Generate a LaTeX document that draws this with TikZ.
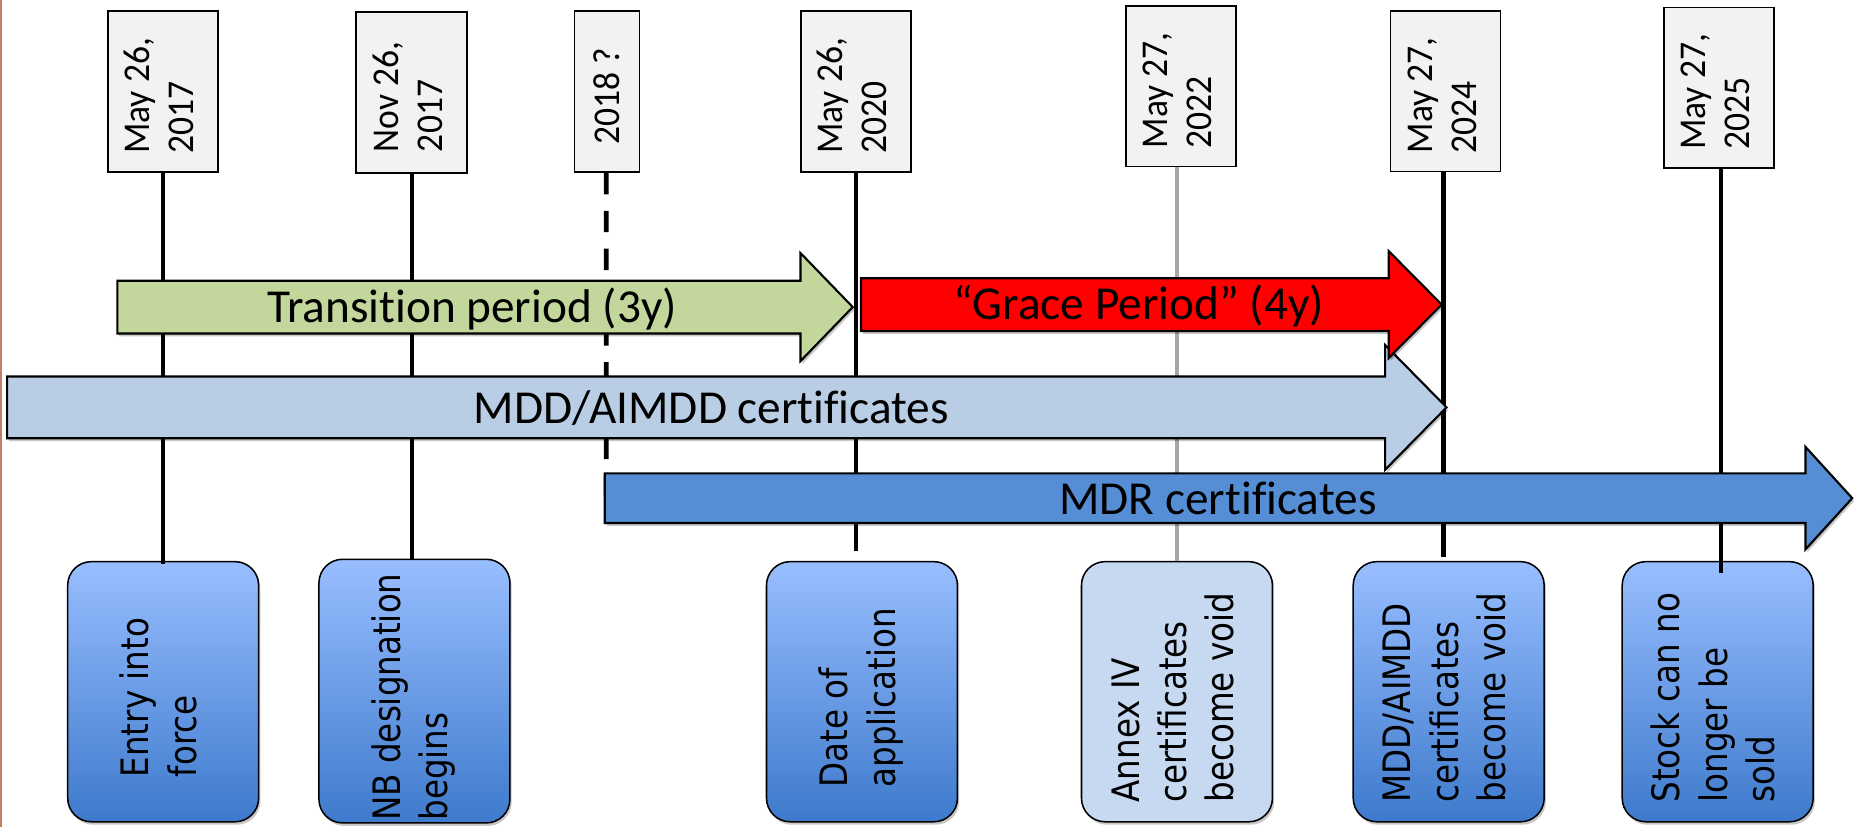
\documentclass[tikz,border=0pt]{standalone}
\usepackage{fontspec}
\setmainfont{Carlito}[Ligatures=CommonOff]
\newfontfamily\datefont[FakeStretch=0.94,Ligatures=CommonOff]{Carlito}
\newfontfamily\boxfont[FakeStretch=0.86]{DejaVu Sans}
\usetikzlibrary{shadows}
\definecolor{dategray}{HTML}{F2F2F2}
\definecolor{gtop}{RGB}{152,190,255}
\definecolor{gbot}{RGB}{62,122,204}
\definecolor{annexfill}{HTML}{C6D9F1}
\definecolor{greenarrow}{HTML}{C3D69B}
\definecolor{mddblue}{HTML}{B9CDE5}
\definecolor{mdrblue}{HTML}{558ED5}
\definecolor{edgebrown}{RGB}{196,128,100}
\definecolor{linegray}{HTML}{A6A6A6}
\begin{document}
\begin{tikzpicture}[x=1pt,y=-1pt,
  softshadow/.style={drop shadow={shadow xshift=1.5pt, shadow yshift=-2.5pt, opacity=0.22, fill=black}},
  datebox/.style={draw=black, line width=1.5pt, fill=dategray, inner sep=0pt,
    minimum width=93pt, minimum height=136pt, font=\datefont\fontsize{32}{37}\selectfont},
  eventbox/.style={draw=black, line width=1.3pt, rounded corners=20pt, top color=gtop, bottom color=gbot,
    inner sep=0pt, minimum width=161.5pt, minimum height=220pt,
    font=\boxfont\fontsize{32}{40}\selectfont, softshadow},
  annexbox/.style={eventbox, fill=annexfill, top color=annexfill, bottom color=annexfill},
  timeline/.style={draw=black, line width=3.5pt},
  periodarrow/.style={draw=black, line width=1.8pt, softshadow},
  arrowtext/.style={font=\fontsize{40}{48}\selectfont, anchor=base, inner sep=0pt}
]
\useasboundingbox (0,0) rectangle (1568,699);

% event boxes
\node[eventbox] (b1) at (138,585) {\rotatebox{90}{\hspace{-10pt}\begin{tabular}{@{}l@{}}Entry into\\force\end{tabular}}};
\node[eventbox, minimum height=223pt] (b2) at (350.5,584.5) {\rotatebox{90}{\hspace{-10pt}\begin{tabular}{@{}l@{}}NB designation\\begins\end{tabular}}};
\node[eventbox] (b3) at (729,585) {\rotatebox{90}{\hspace{-10pt}\begin{tabular}{@{}l@{}}Date of\\application\end{tabular}}};
\node[annexbox] (b4) at (995.4,585) {\rotatebox{90}{\hspace{-10pt}\begin{tabular}{@{}l@{}}Annex IV\\certificates\\become void\end{tabular}}};
\node[eventbox] (b5) at (1225.2,585) {\rotatebox{90}{\hspace{-10pt}\begin{tabular}{@{}l@{}}MDD/AIMDD\\certificates\\become void\end{tabular}}};
\node[eventbox] (b6) at (1452.7,585) {\rotatebox{90}{\hspace{-10pt}\begin{tabular}{@{}l@{}}Stock can no\\longer be\\sold\end{tabular}}};

% date boxes
\node[datebox] (d1) at (137.8,77.6) {\rotatebox{90}{\hspace{-7pt}\begin{tabular}{@{}l@{}}May 26,\\2017\end{tabular}}};
\node[datebox, minimum width=93.7pt] (d2) at (348.2,78.3) {\rotatebox{90}{\hspace{-7pt}\begin{tabular}{@{}l@{}}Nov 26,\\2017\end{tabular}}};
\node[datebox, minimum width=55pt] (d3) at (513.4,77.6) {\rotatebox{90}{\hspace{-7pt}2018 ?}};
\node[datebox] (d4) at (723.7,77.6) {\rotatebox{90}{\hspace{-7pt}\begin{tabular}{@{}l@{}}May 26,\\2020\end{tabular}}};
\node[datebox] (d5) at (998.9,72.8) {\rotatebox{90}{\hspace{-7pt}\begin{tabular}{@{}l@{}}May 27,\\2022\end{tabular}}};
\node[datebox] (d6) at (1222.5,77) {\rotatebox{90}{\hspace{-7pt}\begin{tabular}{@{}l@{}}May 27,\\2024\end{tabular}}};
\node[datebox] (d7) at (1453.9,74.3) {\rotatebox{90}{\hspace{-7pt}\begin{tabular}{@{}l@{}}May 27,\\2025\end{tabular}}};

% timeline connectors
\coordinate (mdrstart) at (512.8,420);
\draw[timeline] (d1.south) -- ([yshift=-3pt]d1.south |- b1.north);
\draw[timeline] (d2.south) -- (d2.south |- b2.north);
\draw[timeline, line width=4pt, dash pattern=on 18pt off 14pt] ([xshift=-0.6pt]d3.south) -- (mdrstart);
\draw[timeline] (d4.south) -- ([yshift=8pt]d4.south |- b3.north);
\draw[timeline, draw=linegray] (b4.north |- d5.south) -- (b4.north);
\draw[timeline] ([xshift=-1.7pt]d6.south) -- ([xshift=-1.7pt,yshift=3pt]d6.south |- b5.north);
\draw[timeline] ([xshift=1.9pt]d7.south) -- ([xshift=1.9pt,yshift=-10pt]d7.south |- b6.north);

% period arrows
\path[periodarrow, fill=mddblue] (6,318.4) -- (1171.4,318.4) -- (1171.4,291.7) -- (1223.4,344.5)
  -- (1171.4,397.3) -- (1171.4,370.6) -- (6,370.6) -- cycle;
\path[periodarrow, fill=mdrblue] (511.5,400.3) -- (1527,400.3) -- (1527,378) -- (1566.5,421.3)
  -- (1527,464.6) -- (1527,442.3) -- (511.5,442.3) -- cycle;
\path[periodarrow, fill=greenarrow] (99.3,237.4) -- (677,237.4) -- (677,214) -- (721.2,259.7)
  -- (677,305.4) -- (677,282) -- (99.3,282) -- cycle;
\path[periodarrow, fill=red] (728.2,235.3) -- (1174.5,235.3) -- (1174.5,212.4) -- (1219.3,257.6)
  -- (1174.5,302.8) -- (1174.5,279.9) -- (728.2,279.9) -- cycle;

\node[arrowtext] (t1) at (399.2,272.8) {Transition period (3y)};
\node[arrowtext] (t2) at (963.2,270.6) {“Grace Period” (4y)};
\node[arrowtext] (t3) at (601.7,357.9) {MDD/AIMDD certificates};
\node[arrowtext] (t4) at (1030.1,435.3) {MDR certificates};

% left page edge
\draw[edgebrown, line width=2pt] (1,0) -- (1,699);
\end{tikzpicture}
\end{document}
